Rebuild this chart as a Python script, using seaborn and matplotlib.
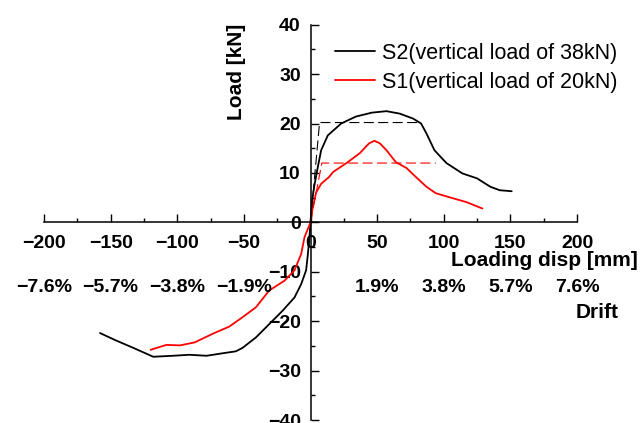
import matplotlib
matplotlib.use("Agg")
import matplotlib.pyplot as plt
from matplotlib.ticker import MultipleLocator
import seaborn as sns
import pandas as pd

# S2 (vertical load of 38kN) envelope
s2_x = [-158, -146, -133, -118, -103, -91, -78, -66, -56, -51, -41, -31, -21, -12, -7, -3.3, -2, -0.8, 0,
        1, 3, 5.5, 8, 13, 23, 34, 46, 57, 67, 77, 83, 87, 93, 102, 114, 125, 135, 142, 151]
s2_y = [-22.4, -23.9, -25.4, -27.2, -27.0, -26.8, -27.0, -26.5, -26.1, -25.4, -23.3, -20.6, -17.9, -15.2, -12.5, -9.7, -6.5, -3.0, 0,
        4.0, 7.6, 11.2, 14.6, 17.6, 20.0, 21.4, 22.2, 22.5, 22.0, 21.0, 20.0, 18.0, 14.6, 12.0, 9.9, 8.9, 7.2, 6.5, 6.3]

# S1 (vertical load of 20kN) envelope
s1_x = [-120, -113, -108, -98, -87, -73, -61, -51, -41, -31, -19.5, -12, -7, -4.5, 0,
        1.7, 4.3, 8, 14, 17, 27, 37, 44, 48, 52, 57, 64, 72, 79, 87, 94, 104, 117, 129]
s1_y = [-25.8, -25.2, -24.8, -24.9, -24.3, -22.5, -21.1, -19.2, -17.2, -13.8, -11.8, -9.7, -6.4, -3.0, 0,
        3.1, 6.1, 7.8, 9.2, 10.2, 12.0, 14.0, 16.0, 16.5, 16.0, 14.6, 12.2, 11.0, 9.2, 7.2, 5.9, 5.1, 4.1, 2.8]

# idealised bilinear (dashed)
s2_bi_x = [0, 6.8, 83]
s2_bi_y = [0, 20.2, 20.2]
s1_bi_x = [0, 8.5, 94]
s1_bi_y = [0, 12.0, 12.0]

labels = ["S2(vertical load of 38kN)", "S1(vertical load of 20kN)"]
drift_pos = [-200, -150, -100, -50, 50, 100, 150, 200]
drift_lab = ["\u22127.6%", "\u22125.7%", "\u22123.8%", "\u22121.9%", "1.9%", "3.8%", "5.7%", "7.6%"]

sns.set_style("white")
plt.rcParams["font.family"] = ["Liberation Sans", "DejaVu Sans"]
plt.rcParams["axes.unicode_minus"] = True
for k in ("text.color", "axes.labelcolor", "xtick.color", "ytick.color"):
    plt.rcParams[k] = "black"

s2_df = pd.DataFrame({"x": s2_x, "y": s2_y})
s1_df = pd.DataFrame({"x": s1_x, "y": s1_y})

fig = plt.figure(figsize=(6.42, 4.23), dpi=100)
ax = fig.add_axes([44 / 642, 1 - 420 / 423, (577 - 44) / 642, (420 - 24.7) / 423])

sns.lineplot(data=s2_df, x="x", y="y", sort=False, estimator=None,
             color="black", linewidth=1.3, ax=ax, label=labels[0])
sns.lineplot(data=s1_df, x="x", y="y", sort=False, estimator=None,
             color="#ff0000", linewidth=1.3, ax=ax, label=labels[1])
sns.lineplot(x=s2_bi_x, y=s2_bi_y, sort=False, estimator=None, color="black", linewidth=0.8,
             ax=ax, linestyle=(0, (9, 4)))
sns.lineplot(x=s1_bi_x, y=s1_bi_y, sort=False, estimator=None, color="#ff0000", linewidth=0.8,
             ax=ax, linestyle=(0, (9, 4)))

ax.set_xlim(-200, 200)
ax.set_ylim(-40, 40)
ax.spines["left"].set_position("zero")
ax.spines["bottom"].set_position("zero")
ax.spines["top"].set_visible(False)
ax.spines["right"].set_visible(False)
for sp in ("left", "bottom"):
    ax.spines[sp].set_linewidth(1.1)
    ax.spines[sp].set_color("black")
ax.xaxis.set_major_locator(MultipleLocator(50))
ax.xaxis.set_minor_locator(MultipleLocator(25))
ax.yaxis.set_major_locator(MultipleLocator(10))
ax.yaxis.set_minor_locator(MultipleLocator(5))
ax.tick_params(which="both", direction="in", color="black", width=1.0)
ax.tick_params(which="major", length=6)
ax.tick_params(which="minor", length=3)
ax.tick_params(axis="x", which="both", bottom=True, pad=9)
ax.tick_params(axis="y", which="both", left=True, pad=7)
for t in ax.get_xticklabels() + ax.get_yticklabels():
    t.set_fontsize(14)
    t.set_fontweight("bold")
ax.set_xlabel("")
ax.set_ylabel("")

fig.text(638 / 642, 1 - 260 / 423, "Loading disp [mm]", ha="right", va="center",
         fontsize=15, fontweight="bold")
fig.text(237 / 642, 1 - 72 / 423, "Load [kN]", ha="center", va="center", rotation=90,
         fontsize=15, fontweight="bold")
for xp, lab in zip(drift_pos, drift_lab):
    ax.text(xp, -13.2, lab, ha="center", va="center", fontsize=14, fontweight="bold", clip_on=False)
ax.text(215, -18.3, "Drift", ha="center", va="center", fontsize=15, fontweight="bold", clip_on=False)

leg = ax.legend(loc="upper left", bbox_to_anchor=(335 / 642, 1 - 43 / 423),
                bbox_transform=fig.transFigure, frameon=False, fontsize=15.5,
                handlelength=1.86, handletextpad=0.3, labelspacing=0.35, borderpad=0, borderaxespad=0)
for h in leg.get_lines():
    h.set_linewidth(1.3)

fig.savefig("out.png", dpi=100)
